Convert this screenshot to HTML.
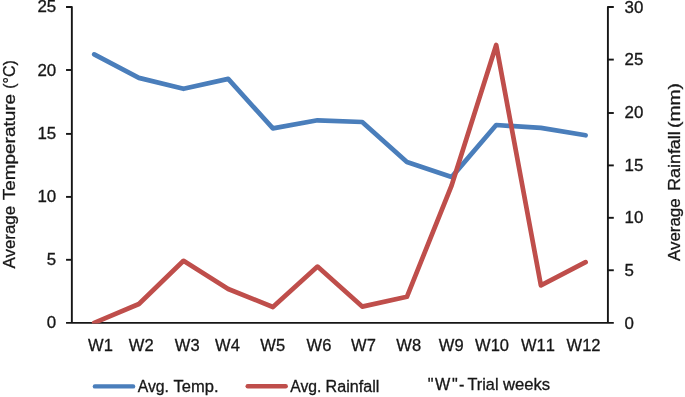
<!DOCTYPE html>
<html lang="en"><head><meta charset="utf-8"><title>Average temperature and rainfall by trial week</title>
<style>html,body{margin:0;padding:0;background:#fff}svg{display:block;filter:blur(0.35px)}text{font-family:"Liberation Sans",sans-serif;font-size:16.5px;fill:#171717;stroke:#171717;stroke-width:0.3px}</style></head><body>
<svg width="685" height="397" viewBox="0 0 685 397">
<rect width="685" height="397" fill="#fff"/>
<defs><clipPath id="plot"><rect x="60" y="0" width="560" height="323.6"/></clipPath></defs>
<g stroke="#161616" stroke-width="1.9" fill="none">
<path stroke-linejoin="round" d="M66.05 7.0H71.85V322.9"/>
<path stroke-linejoin="round" d="M613.8 7.0H607.9V322.9"/>
<path d="M66.05 322.9H613.8"/>
<path d="M66.05 70.00H71.85"/>
<path d="M66.05 133.90H71.85"/>
<path d="M66.05 196.90H71.85"/>
<path d="M66.05 259.80H71.85"/>
<path d="M607.9 59.60H613.8"/>
<path d="M607.9 113.00H613.8"/>
<path d="M607.9 165.40H613.8"/>
<path d="M607.9 217.80H613.8"/>
<path d="M607.9 270.25H613.8"/>
</g>
<g fill="none" stroke-width="4.7" stroke-linecap="round" stroke-linejoin="round" clip-path="url(#plot)">
<polyline stroke="#4a7ebb" points="94.2,54.4 138.9,77.9 183.5,88.8 228.2,78.9 272.9,128.4 317.5,120.3 362.2,122.0 406.9,162.1 451.6,177.1 496.2,125.0 540.9,127.9 585.6,135.3"/>
<polyline stroke="#bf4e4b" points="94.2,322.8 138.9,304.0 183.5,260.8 228.2,289.0 272.9,307.0 317.5,266.6 362.2,306.6 406.9,296.8 451.6,185.5 496.2,45.0 540.9,285.4 585.6,262.2"/>
</g>
<text x="37.40" y="12.4" style="font-size:15.6px" textLength="18.80" lengthAdjust="spacingAndGlyphs">25</text>
<text x="37.40" y="75.6" style="font-size:15.6px" textLength="18.80" lengthAdjust="spacingAndGlyphs">20</text>
<text x="37.40" y="138.8" style="font-size:15.6px" textLength="18.80" lengthAdjust="spacingAndGlyphs">15</text>
<text x="37.40" y="201.9" style="font-size:15.6px" textLength="18.80" lengthAdjust="spacingAndGlyphs">10</text>
<text x="46.80" y="265.1" style="font-size:15.6px" textLength="9.40" lengthAdjust="spacingAndGlyphs">5</text>
<text x="46.80" y="328.3" style="font-size:15.6px" textLength="9.40" lengthAdjust="spacingAndGlyphs">0</text>
<text x="624.5" y="12.7" style="font-size:15.6px" textLength="18.80" lengthAdjust="spacingAndGlyphs">30</text>
<text x="624.5" y="65.3" style="font-size:15.6px" textLength="18.80" lengthAdjust="spacingAndGlyphs">25</text>
<text x="624.5" y="118.0" style="font-size:15.6px" textLength="18.80" lengthAdjust="spacingAndGlyphs">20</text>
<text x="624.5" y="170.6" style="font-size:15.6px" textLength="18.80" lengthAdjust="spacingAndGlyphs">15</text>
<text x="624.5" y="223.3" style="font-size:15.6px" textLength="18.80" lengthAdjust="spacingAndGlyphs">10</text>
<text x="624.5" y="275.9" style="font-size:15.6px" textLength="9.40" lengthAdjust="spacingAndGlyphs">5</text>
<text x="624.5" y="328.6" style="font-size:15.6px" textLength="9.40" lengthAdjust="spacingAndGlyphs">0</text>
<text x="88.1 103.8" y="350.7">W1</text>
<text x="128.8 144.5" y="350.7">W2</text>
<text x="174.7 190.4" y="350.7">W3</text>
<text x="215.1 230.8" y="350.7">W4</text>
<text x="260.3 276.0" y="350.7">W5</text>
<text x="306.5 322.2" y="350.7">W6</text>
<text x="351.1 366.8" y="350.7">W7</text>
<text x="396.3 412.0" y="350.7">W8</text>
<text x="438.7 454.4" y="350.7">W9</text>
<text x="475.0 490.7 499.8" y="350.7">W10</text>
<text x="520.9 536.6 545.7" y="350.7">W11</text>
<text x="566.5 582.2 591.3" y="350.7">W12</text>
<g fill="none" stroke-width="4.4" stroke-linecap="round">
<path stroke="#4a7ebb" d="M94.9 386.4H133.1"/>
<path stroke="#bf4e4b" d="M247.7 386.3H285.7"/>
</g>
<text y="391.6" style="font-size:16px"><tspan x="137.7" textLength="31.3" lengthAdjust="spacingAndGlyphs">Avg.</tspan> <tspan x="173.5" textLength="45" lengthAdjust="spacingAndGlyphs">Temp.</tspan></text>
<text y="391.6" style="font-size:16px"><tspan x="290.3" textLength="31.1" lengthAdjust="spacingAndGlyphs">Avg.</tspan> <tspan x="325.6" textLength="53.8" lengthAdjust="spacingAndGlyphs">Rainfall</tspan></text>
<text y="389.9" style="font-size:16.2px"><tspan x="427.7 435.1 452 459.1">"W"-</tspan> <tspan x="467.5" textLength="31" lengthAdjust="spacingAndGlyphs">Trial</tspan> <tspan x="502.9" textLength="47.2" lengthAdjust="spacingAndGlyphs">weeks</tspan></text>
<g transform="translate(15.4 268.5) rotate(-90)">
<text x="0" y="0" textLength="62.6" lengthAdjust="spacingAndGlyphs">Average</text>
<text x="68.3" y="0" textLength="106.3" lengthAdjust="spacingAndGlyphs">Temperature</text>
<text x="179.7" y="0" textLength="28.7" lengthAdjust="spacingAndGlyphs">(°C)</text>
</g>
<g transform="translate(679.8 261.0) rotate(-90)">
<text x="0" y="0" textLength="62.6" lengthAdjust="spacingAndGlyphs">Average</text>
<text x="70.2" y="0" textLength="59.5" lengthAdjust="spacingAndGlyphs">Rainfall</text>
<text x="133.0" y="0" textLength="44.8" lengthAdjust="spacingAndGlyphs">(mm)</text>
</g>
</svg></body></html>
